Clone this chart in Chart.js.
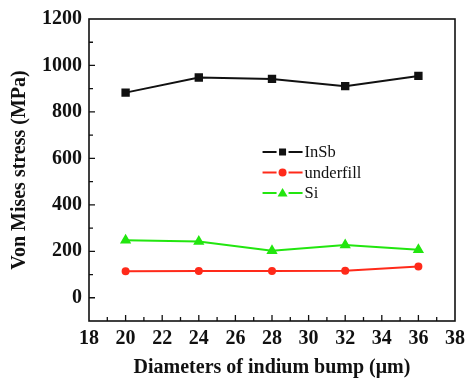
<!DOCTYPE html>
<html>
<head>
<meta charset="utf-8">
<script src="https://cdn.jsdelivr.net/npm/chart.js@4/dist/chart.umd.min.js"></script>
<style>
  html, body { margin: 0; padding: 0; background: #fff; }
  #wrap { width: 471px; height: 379px; }
</style>
</head>
<body>
<div id="wrap"><canvas id="stress-chart" width="471" height="379"></canvas></div>
<script>
// diameters of indium bump (um)
const diameters = [20, 24, 28, 32, 36];
// von Mises stress (MPa)
const insbStress = [883, 948, 942, 911, 955];
const underfillStress = [114, 115, 115, 116, 135];
const siStress = [248, 242, 202, 227, 207];

const xTicks = [18, 20, 22, 24, 26, 28, 30, 32, 34, 36, 38];
const yTicks = [0, 200, 400, 600, 800, 1000, 1200];

const serif = '"Liberation Serif", "Times New Roman", serif';

function toPoints(vals) {
    return diameters.map((d, i) => ({ x: d, y: vals[i] }));
}

// frame + inward ticks + legend drawn by hand
const framePlugin = {
    id: 'frame',
    afterDraw(chart) {
        const ctx = chart.ctx;
        const a = chart.chartArea;
        const xs = chart.scales.x;
        const ys = chart.scales.y;
        ctx.save();
        ctx.strokeStyle = '#111';
        ctx.lineWidth = 1.6;
        ctx.strokeRect(a.left, a.top, a.right - a.left, a.bottom - a.top);

        ctx.lineWidth = 1.3;
        ctx.beginPath();
        for (let v = 19; v < 38; v++) {
            const px = xs.getPixelForValue(v);
            const len = v % 2 === 0 ? 6 : 4;
            ctx.moveTo(px, a.bottom);
            ctx.lineTo(px, a.bottom - len);
        }
        for (let v = 0; v < 1200; v += 100) {
            const py = ys.getPixelForValue(v);
            const len = v % 200 === 0 ? 6 : 4;
            ctx.moveTo(a.left, py);
            ctx.lineTo(a.left + len, py);
        }
        ctx.stroke();

        // legend
        const lx = a.left + 0.466 * (a.right - a.left) + 3;
        let ly = a.top + 133;
        ctx.font = '16.5px ' + serif;
        ctx.textBaseline = 'middle';
        chart.data.datasets.forEach(ds => {
            ctx.strokeStyle = ds.borderColor;
            ctx.fillStyle = ds.pointBackgroundColor;
            ctx.lineWidth = 2;
            ctx.beginPath();
            ctx.moveTo(lx, ly);
            ctx.lineTo(lx + 14, ly);
            ctx.moveTo(lx + 26, ly);
            ctx.lineTo(lx + 40, ly);
            ctx.stroke();
            const cx = lx + 20;
            ctx.beginPath();
            if (ds.pointStyle === 'rect') {
                ctx.rect(cx - 3.5, ly - 3.5, 7, 7);
            } else if (ds.pointStyle === 'circle') {
                ctx.arc(cx, ly, 4, 0, Math.PI * 2);
            } else {
                ctx.moveTo(cx, ly - 5);
                ctx.lineTo(cx + 5, ly + 3.5);
                ctx.lineTo(cx - 5, ly + 3.5);
                ctx.closePath();
            }
            ctx.fill();
            ctx.fillStyle = '#111';
            ctx.fillText(ds.label, lx + 42, ly + 1);
            ly += 20.5;
        });
        ctx.restore();
    }
};

const ctx = document.getElementById('stress-chart').getContext('2d');
new Chart(ctx, {
    type: 'line',
    data: {
        datasets: [{
            label: 'InSb',
            data: toPoints(insbStress),
            borderColor: '#111',
            pointBackgroundColor: '#111',
            pointBorderColor: '#111',
            pointStyle: 'rect',
            pointRadius: 4.5,
            borderWidth: 2
        }, {
            label: 'underfill',
            data: toPoints(underfillStress),
            borderColor: '#ff2a1a',
            pointBackgroundColor: '#ff2a1a',
            pointBorderColor: '#ff2a1a',
            pointStyle: 'circle',
            pointRadius: 3,
            borderWidth: 2
        }, {
            label: 'Si',
            data: toPoints(siStress),
            borderColor: '#22e60f',
            pointBackgroundColor: '#22e60f',
            pointBorderColor: '#22e60f',
            pointStyle: 'triangle',
            pointRadius: 4.5,
            borderWidth: 2
        }]
    },
    options: {
        responsive: false,
        animation: false,
        layout: { padding: { top: 17, right: 8, left: 0, bottom: 0 } },
        plugins: {
            legend: { display: false },
            tooltip: { enabled: false }
        },
        scales: {
            x: {
                type: 'linear',
                min: 18,
                max: 38,
                afterBuildTicks: scale => { scale.ticks = xTicks.map(v => ({ value: v })); },
                afterFit: scale => { scale.height = 58; },
                grid: { display: false, drawTicks: false },
                border: { display: false },
                ticks: {
                    padding: 6,
                    color: '#111',
                    callback: v => String(v),
                    font: { family: serif, size: 20, weight: 'bold' }
                },
                title: {
                    display: true,
                    text: 'Diameters of indium bump (\u03bcm)',
                    color: '#111',
                    padding: { top: 0, bottom: -1 },
                    font: { family: serif, size: 20, weight: 'bold' }
                }
            },
            y: {
                min: -100,
                max: 1200,
                afterBuildTicks: scale => { scale.ticks = yTicks.map(v => ({ value: v })); },
                afterFit: scale => { scale.width = 89; },
                grid: { display: false, drawTicks: false },
                border: { display: false },
                ticks: {
                    padding: 7,
                    color: '#111',
                    callback: v => String(v),
                    font: { family: serif, size: 20, weight: 'bold' }
                },
                title: {
                    display: true,
                    text: 'Von Mises stress (MPa)',
                    color: '#111',
                    padding: { top: 8, bottom: 0 },
                    font: { family: serif, size: 20, weight: 'bold' }
                }
            }
        }
    },
    plugins: [framePlugin]
});
</script>
</body>
</html>
